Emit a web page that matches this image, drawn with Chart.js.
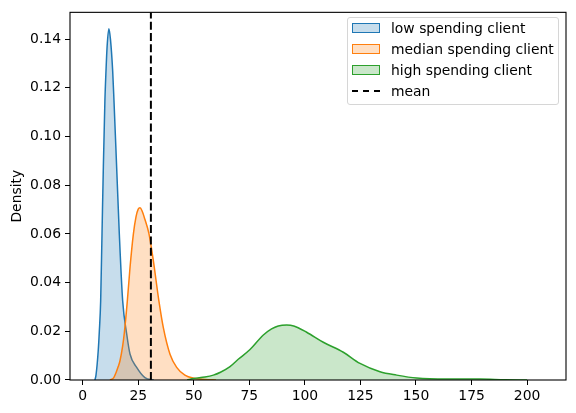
<!DOCTYPE html>
<html>
<head>
<meta charset="utf-8">
<script src="https://cdn.jsdelivr.net/npm/chart.js@4"></script>
<style>
  body { margin: 0; background: #fff; }
  #wrap { position: relative; width: 576px; height: 413px; }
  #legend {
    position: absolute; left: 347px; top: 17px; width: 212px; height: 88px;
    border: 1px solid #d6d6d6; border-radius: 3px; background: rgba(255,255,255,0.8);
    font-family: "DejaVu Sans", sans-serif; font-size: 13.9px; color: #000;
    box-sizing: border-box; padding-top: 0px;
  }
  #legend .row { display: flex; align-items: center; height: 20.8px; }
  #legend .sw { width: 28px; height: 10px; margin-left: 4px; margin-right: 11px; box-sizing: border-box; }
  #legend .dash { width: 28px; margin-left: 4px; margin-right: 11px; border-top: 2px dashed #000; }
</style>
</head>
<body>
<div id="wrap">
  <canvas id="chart"></canvas>
  <div id="legend"></div>
</div>
<script>
// KDE curves
const lowX = [5.5, 6, 7, 7.5, 8.1, 8.7, 9.3, 10, 10.5, 11, 11.8, 12.5, 13.5, 14.1, 15.3, 16.5, 18, 19.8, 21.3, 24.3, 28, 32];
const lowY = [0, 0.002, 0.012, 0.020, 0.0325, 0.0598, 0.0872, 0.1145, 0.127, 0.137, 0.1443, 0.140, 0.127, 0.1145, 0.0872, 0.0598, 0.0325, 0.019, 0.0107, 0.0052, 0.001, 0];

const medX = [12.3, 14, 15, 16, 16.8, 18, 18.7, 20.1, 21.3, 22.8, 24, 25, 25.8, 26.7, 28, 29.8, 31.8, 34.3, 36.3, 39.3, 42.3, 46, 50, 55, 60];
const medY = [0, 0.001, 0.003, 0.0055, 0.0079, 0.014, 0.019, 0.0325, 0.0461, 0.0598, 0.067, 0.0702, 0.0707, 0.0695, 0.066, 0.0602, 0.049, 0.0325, 0.0215, 0.0106, 0.0052, 0.002, 0.0007, 0.0002, 0];

const highX = [47, 50, 55, 58.8, 62, 66.3, 70, 75.3, 81.3, 85, 88, 91.8, 95, 100.8, 108.3, 117.3, 124.8, 133.8, 141.3, 150.3, 163.8, 178.8, 190, 200];
const highY = [0, 0.0006, 0.0012, 0.002, 0.0032, 0.0055, 0.0085, 0.0125, 0.0185, 0.021, 0.0222, 0.0226, 0.0222, 0.0196, 0.0155, 0.0114, 0.0068, 0.0034, 0.002, 0.0008, 0.0004, 0.0004, 0.0001, 0];

const meanValue = 30.7;
const xTicks = [0, 25, 50, 75, 100, 125, 150, 175, 200];
const yTicks = [0, 0.02, 0.04, 0.06, 0.08, 0.10, 0.12, 0.14];

const toPoints = (xs, ys) => xs.map((x, i) => ({ x: x, y: ys[i] }));
const font = { family: 'DejaVu Sans', size: 13.9 };

const kde = (label, xs, ys, line, fill, order) => ({
    label: label,
    data: toPoints(xs, ys),
    borderColor: line,
    backgroundColor: fill,
    borderWidth: 1.5,
    fill: 'origin',
    pointRadius: 0,
    cubicInterpolationMode: 'monotone',
    order: order
});

// draw all four spines like matplotlib
const boxPlugin = {
    id: 'box',
    afterDraw(chart) {
        const a = chart.chartArea, c = chart.ctx;
        c.save();
        c.strokeStyle = '#000';
        c.lineWidth = 1.1;
        c.strokeRect(a.left, a.top, a.right - a.left, a.bottom - a.top);
        c.restore();
    }
};

const chart = new Chart(document.getElementById('chart'), {
    type: 'line',
    data: {
        datasets: [
            kde('low spending client', lowX, lowY, '#1f77b4', 'rgba(31,119,180,0.25)', 3),
            kde('median spending client', medX, medY, '#ff7f0e', 'rgba(255,127,14,0.25)', 2),
            kde('high spending client', highX, highY, '#2ca02c', 'rgba(44,160,44,0.25)', 1),
            {
                label: 'mean',
                data: [{ x: meanValue, y: 0 }, { x: meanValue, y: 0.151 }],
                borderColor: '#000',
                borderWidth: 2,
                borderDash: [8, 3.3],
                fill: false,
                pointRadius: 0,
                order: 0
            }
        ]
    },
    options: {
        responsive: true,
        maintainAspectRatio: false,
        animation: false,
        layout: { padding: { left: 0, top: 11, right: 10, bottom: 0 } },
        plugins: {
            legend: { display: false },
            tooltip: { enabled: false }
        },
        scales: {
            x: {
                type: 'linear',
                min: -5.7,
                max: 217.5,
                afterBuildTicks: s => { s.ticks = xTicks.map(v => ({ value: v })); },
                afterFit: s => { s.height = 33; },
                grid: { drawOnChartArea: false, drawTicks: true, tickLength: 5, color: '#000' },
                border: { display: false },
                ticks: { color: '#000', font: font, padding: 3, maxRotation: 0 }
            },
            y: {
                type: 'linear',
                min: 0,
                max: 0.151,
                afterBuildTicks: s => { s.ticks = yTicks.map(v => ({ value: v })); },
                afterFit: s => { s.width = 70; },
                grid: { drawOnChartArea: false, drawTicks: true, tickLength: 5, color: '#000' },
                border: { display: false },
                ticks: { color: '#000', font: font, padding: 4, callback: v => v.toFixed(2) },
                title: { display: true, text: 'Density', color: '#000', font: font, padding: { top: 9, bottom: 0 } }
            }
        }
    },
    plugins: [boxPlugin]
});

// legend inside the axes, built from the datasets
const legend = document.getElementById('legend');
chart.data.datasets.forEach(ds => {
    const row = document.createElement('div');
    row.className = 'row';
    const sw = document.createElement('span');
    if (ds.fill) {
        sw.className = 'sw';
        sw.style.background = ds.backgroundColor;
        sw.style.border = '1.5px solid ' + ds.borderColor;
    } else {
        sw.className = 'dash';
    }
    const txt = document.createElement('span');
    txt.textContent = ds.label;
    row.appendChild(sw);
    row.appendChild(txt);
    legend.appendChild(row);
});
</script>
</body>
</html>
